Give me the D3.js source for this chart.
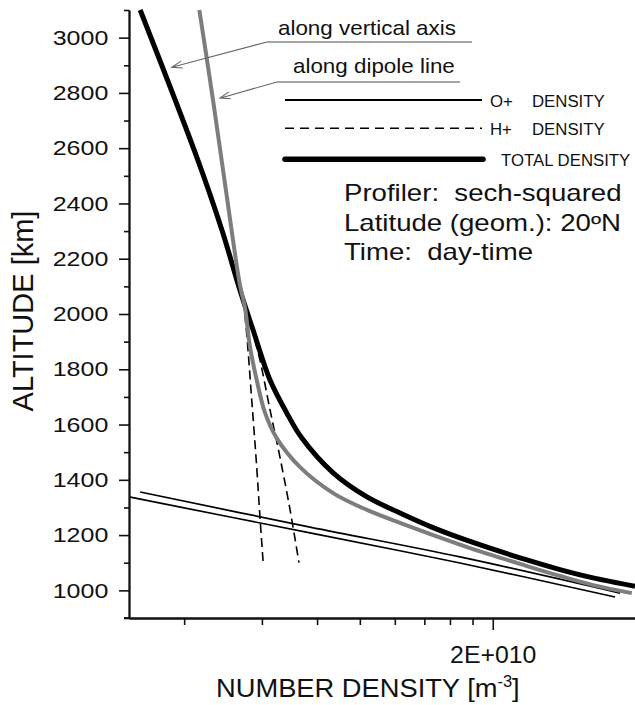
<!DOCTYPE html>
<html><head><meta charset="utf-8">
<script src="https://cdn.jsdelivr.net/npm/d3@7"></script>
<style>
body{margin:0;background:#fff}
svg{display:block}
text{font-family:"Liberation Sans",Arial,Helvetica,sans-serif;fill:#111;white-space:pre}
</style>
</head><body>
<svg id="c" width="635" height="705"></svg>
<script>
// ---------------- DATA (density m^-3, altitude km) ----------------
const totalVertical = [[3.18e9,3100],[4.28e9,2564],[4.87e9,2304],[5.35e9,2087],[5.73e9,1942],[6.26e9,1761],
  [6.83e9,1642],[7.39e9,1551],[8.70e9,1425],[1.038e10,1338],[1.233e10,1280],[1.465e10,1227],[1.777e10,1177],
  [2.391e10,1110],[2.84e10,1075],[3.375e10,1045],[4.2e10,1015]];
const totalDipole = [[4.33e9,3100],[4.65e9,2774],[5.01e9,2412],[5.35e9,2105],
  [5.49e9,2025],[5.64e9,1880],[5.84e9,1761],[6.10e9,1642],[6.48e9,1551],[7.32e9,1446],[8.70e9,1352],
  [1.038e10,1291],[1.233e10,1244],[1.465e10,1200],[1.777e10,1153],[2.391e10,1088],[2.84e10,1052],
  [3.375e10,1019],[4.13e10,990]];
const hVertical = [[3.18e9,3100],[4.28e9,2564],[4.87e9,2304],[5.35e9,2087],[5.70e9,1942],[5.94e9,1833],
  [6.26e9,1653],[6.59e9,1483],[6.95e9,1291],[7.28e9,1100]];
const hDipole = [[4.33e9,3100],[4.65e9,2774],[5.01e9,2412],[5.35e9,2105],
  [5.44e9,2050],[5.54e9,1931],[5.69e9,1689],[5.84e9,1446],[5.94e9,1265],[6.04e9,1100]];
const oVertical = [[3.0e9,1338],[7.71e9,1208],[1.686e10,1099],[3.785e10,976]];
const oDipole = [[3.18e9,1356],[7.71e9,1229],[1.686e10,1121],[3.885e10,990]];

const yMajorTicks = [1000,1200,1400,1600,1800,2000,2200,2400,2600,2800,3000];
const yMinorTicks = [900,1100,1300,1500,1700,1900,2100,2300,2500,2700,2900,3100];
const xMinorTicks = [4e9,6e9,8e9,1e10,1.2e10,1.4e10,1.6e10,1.8e10];
const xMajorTicks = [2e10];
const xTickLabels = ["2E+010"];
const arrowTips = [[3.75e9,2893],[4.82e9,2781]];   // annotation targets
const annotations = ["along vertical axis","along dipole line"];
const legendLabels = [["O+","DENSITY"],["H+","DENSITY"],["TOTAL DENSITY",""]];
const infoLines = ["Profiler:  sech-squared","Latitude (geom.): 20\u00baN","Time:  day-time"];

// ---------------- CHART ----------------
const svg = d3.select("#c");
svg.append("rect").attr("width",635).attr("height",705).attr("fill","#fff");

const x = d3.scaleLog().domain([3e9,4.2e10]).range([129,635]);
const y = d3.scaleLinear().domain([900,3100]).range([618,10]);

svg.append("defs").append("clipPath").attr("id","clip")
  .append("rect").attr("x",129).attr("y",6).attr("width",506).attr("height",612);

const line = d3.line().x(d=>x(d[0])).y(d=>y(d[1])).curve(d3.curveCatmullRom.alpha(0.5));
const plot = svg.append("g").attr("clip-path","url(#clip)");

[oVertical,oDipole].forEach(s=>plot.append("path").attr("d",line(s)).attr("fill","none")
  .attr("stroke","#000").attr("stroke-width",1.7));
[hVertical,hDipole].forEach(s=>plot.append("path").attr("d",line(s)).attr("fill","none")
  .attr("stroke","#000").attr("stroke-width",1.6).attr("stroke-dasharray","9,5"));
plot.append("path").attr("d",line(totalVertical)).attr("fill","none")
  .attr("stroke","#000").attr("stroke-width",5);
plot.append("path").attr("d",line(totalDipole)).attr("fill","none")
  .attr("stroke","#7d7d7d").attr("stroke-width",4);

// axes
function styleAxis(g){
  g.select(".domain").attr("stroke","#111").attr("stroke-width",1.8);
  g.selectAll(".tick line").attr("stroke","#111").attr("stroke-width",1.6);
}
const gy1 = svg.append("g").attr("transform","translate(129,0)")
  .call(d3.axisLeft(y).tickValues(yMinorTicks).tickSize(5).tickSizeOuter(0).tickFormat(""));
styleAxis(gy1);
const gy2 = svg.append("g").attr("transform","translate(129,0)")
  .call(d3.axisLeft(y).tickValues(yMajorTicks).tickSize(10).tickSizeOuter(0).tickFormat(d3.format("d")));
styleAxis(gy2);
gy2.selectAll(".tick text").attr("font-size",21).attr("x",-17.4).attr("fill","#111")
  .attr("font-family",null).attr("transform","scale(1.19,1)");

const gx1 = svg.append("g").attr("transform","translate(0,618)")
  .call(d3.axisBottom(x).tickValues(xMinorTicks).tickSize(7).tickSizeOuter(0).tickFormat(""));
styleAxis(gx1);
const gx2 = svg.append("g").attr("transform","translate(0,618)")
  .call(d3.axisBottom(x).tickValues(xMajorTicks).tickSize(12).tickSizeOuter(0).tickFormat((d,i)=>xTickLabels[i]));
styleAxis(gx2);
gx2.selectAll(".tick text").attr("font-size",23).attr("y",29).attr("fill","#111")
  .attr("font-family",null).attr("transform","scale(1.08,1)");
svg.append("line").attr("x1",124).attr("x2",130).attr("y1",618).attr("y2",618)
  .attr("stroke","#111").attr("stroke-width",1.8);

// axis titles
svg.append("text").attr("transform","translate(33,311) rotate(-90)").attr("text-anchor","middle")
  .attr("font-size",29).text("ALTITUDE [km]");
const xt = svg.append("text").attr("transform","translate(216,697) scale(1.03,1)").attr("font-size",26.5);
xt.append("tspan").text("NUMBER DENSITY [m");
xt.append("tspan").attr("font-size",16).attr("dy",-10).text("-3");
xt.append("tspan").attr("dy",10).text("]");

// annotations with arrows
const annText = [[278,35,267,42,472],[293,72.7,277,82,460]];
annotations.forEach((t,i)=>{
  const [tx,ty,ux,uy,ue] = annText[i];
  svg.append("text").attr("transform",`translate(${tx},${ty}) scale(1.12,1)`).attr("font-size",20)
    .attr("fill","#222").text(t);
  svg.append("line").attr("x1",ux).attr("x2",ue).attr("y1",uy).attr("y2",uy)
    .attr("stroke","#888").attr("stroke-width",1.3);
  const px = x(arrowTips[i][0]), py = y(arrowTips[i][1]);
  const ang = Math.atan2(uy-py, ux-px), L = 11, a = 0.33;
  const p = `M${ux},${uy}L${px},${py}M${px+L*Math.cos(ang+a)},${py+L*Math.sin(ang+a)}L${px},${py}L${px+L*Math.cos(ang-a)},${py+L*Math.sin(ang-a)}`;
  svg.append("path").attr("d",p).attr("fill","none").attr("stroke","#666").attr("stroke-width",1.1);
});

// legend
const legY = [100,128.3,159.3];
const legStyle = [{w:1.8,d:null},{w:1.6,d:"9,6"},{w:5.5,d:null}];
legY.forEach((ly,i)=>{
  svg.append("line").attr("x1",285).attr("x2",i===2?483:482).attr("y1",ly).attr("y2",ly)
    .attr("stroke","#000").attr("stroke-width",legStyle[i].w)
    .attr("stroke-dasharray",legStyle[i].d).attr("stroke-linecap",i===2?"round":"butt");
  const t = svg.append("text").attr("font-size",16.8).attr("y",ly+6.7).attr("fill","#222");
  if(i<2){
    t.append("tspan").attr("x",490).text(legendLabels[i][0]);
    t.append("tspan").attr("x",532).text(legendLabels[i][1]);
  } else {
    t.append("tspan").attr("x",501).text(legendLabels[i][0]);
  }
});

// info block
const infoY = [201,231,260];
infoLines.forEach((s,i)=>{
  svg.append("text").attr("transform",`translate(344,${infoY[i]}) scale(1.2,1)`).attr("font-size",23)
    .attr("fill","#111").text(s);
});
</script>
</body></html>
